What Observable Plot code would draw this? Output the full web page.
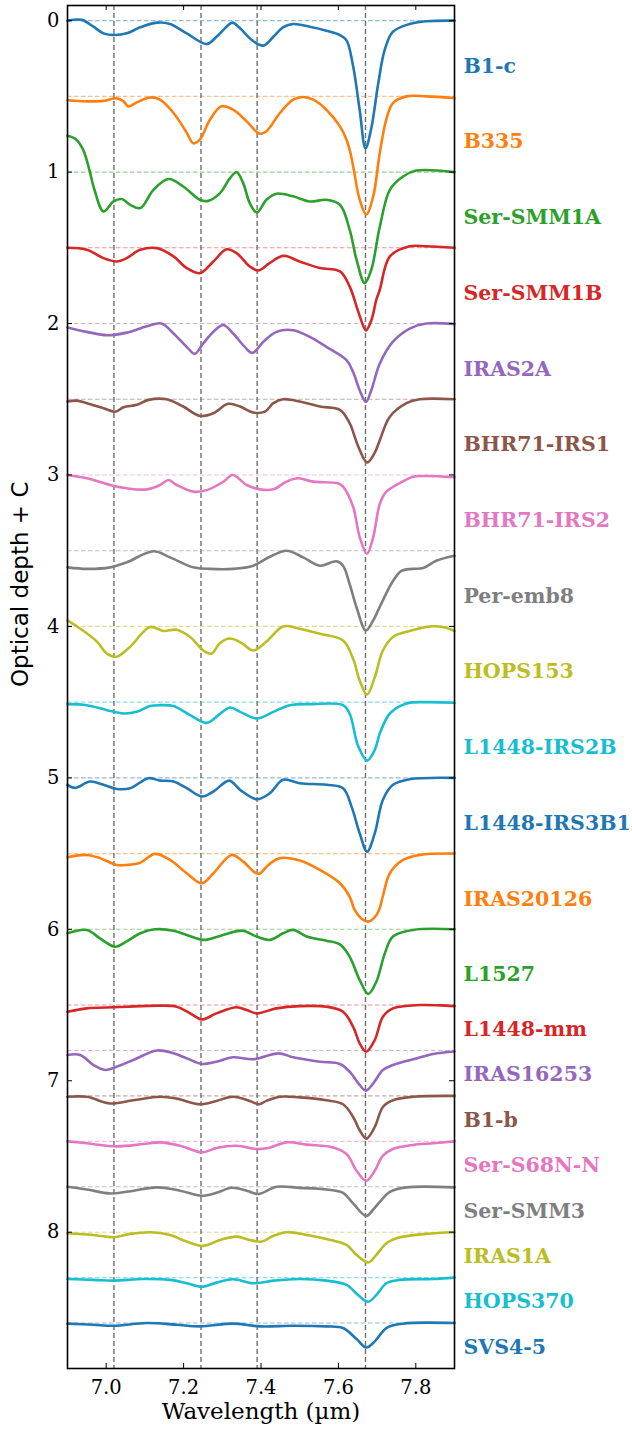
<!DOCTYPE html>
<html><head><meta charset="utf-8">
<script src="https://cdn.jsdelivr.net/npm/d3@7"></script>
<script src="https://cdn.jsdelivr.net/npm/@observablehq/plot@0.6"></script>
<style>body{margin:0;background:#fff;} #chart svg{display:block}</style>
</head><body><div id="chart"></div>
<script>
// ---- data ----
const names = ["B1-c","B335","Ser-SMM1A","Ser-SMM1B","IRAS2A","BHR71-IRS1","BHR71-IRS2","Per-emb8","HOPS153","L1448-IRS2B","L1448-IRS3B1","IRAS20126","L1527","L1448-mm","IRAS16253","B1-b","Ser-S68N-N","Ser-SMM3","IRAS1A","HOPS370","SVS4-5"];
const offsets = [0,0.5,1,1.5,2,2.5,3,3.5,4,4.5,5,5.5,6,6.5,6.8,7.1,7.4,7.7,8.0,8.3,8.6];
const colors = ["#1f77b4","#ff7f0e","#2ca02c","#d62728","#9467bd","#8c564b","#e377c2","#7f7f7f","#bcbd22","#17becf","#1f77b4","#ff7f0e","#2ca02c","#d62728","#9467bd","#8c564b","#e377c2","#7f7f7f","#bcbd22","#17becf","#1f77b4"];
const bandCentres = [7.02, 7.245, 7.39, 7.67];
const xTicks = [7.0, 7.2, 7.4, 7.6, 7.8];
const yTicks = [0,1,2,3,4,5,6,7,8];
const xDomain = [6.9, 7.9];
const yDomain = [-0.1, 8.9];

// fitted optical depth profiles: [wavelength (µm), tau]
const B1c = [[6.900,0],[6.937,-0.005],[6.967,0.04],[6.993,0.084],[7.023,0.095],[7.053,0.084],[7.088,0.044],[7.131,0.013],[7.165,0.022],[7.208,0.084],[7.260,0.154],[7.285,0.106],[7.311,0.04],[7.326,0.013],[7.346,0.05],[7.376,0.128],[7.406,0.165],[7.432,0.106],[7.457,0.044],[7.483,0.022],[7.526,0.04],[7.569,0.066],[7.604,0.095],[7.621,0.13],[7.638,0.30],[7.655,0.59],[7.670,0.844],[7.685,0.71],[7.703,0.414],[7.720,0.19],[7.741,0.073],[7.784,0.022],[7.827,0.004],[7.900,0]];
const B335 = [[6.900,0.026],[6.950,0.033],[6.993,0.03],[7.027,0.013],[7.045,0.033],[7.057,0.066],[7.079,0.04],[7.113,0.007],[7.139,0.022],[7.174,0.11],[7.208,0.24],[7.225,0.31],[7.242,0.286],[7.268,0.154],[7.298,0.066],[7.328,0.088],[7.363,0.165],[7.397,0.247],[7.414,0.23],[7.449,0.11],[7.483,0.022],[7.509,0.004],[7.535,0.022],[7.569,0.088],[7.604,0.198],[7.621,0.286],[7.629,0.352],[7.638,0.46],[7.655,0.682],[7.672,0.78],[7.690,0.66],[7.707,0.372],[7.724,0.15],[7.741,0.044],[7.776,0],[7.827,0],[7.900,0.011]];
const SerSMM1A = [[6.900,-0.24],[6.920,-0.22],[6.940,-0.15],[6.955,-0.03],[6.970,0.12],[6.993,0.26],[7.019,0.194],[7.040,0.178],[7.062,0.216],[7.088,0.238],[7.122,0.117],[7.161,0.046],[7.199,0.095],[7.242,0.183],[7.264,0.19],[7.294,0.139],[7.320,0.04],[7.337,0],[7.354,0.073],[7.371,0.205],[7.389,0.267],[7.414,0.183],[7.440,0.143],[7.483,0.16],[7.526,0.194],[7.569,0.183],[7.604,0.216],[7.629,0.38],[7.647,0.58],[7.668,0.733],[7.685,0.645],[7.707,0.36],[7.733,0.117],[7.767,0.029],[7.801,-0.01],[7.900,0]];
const SerSMM1B = [[6.900,0],[6.950,0.013],[6.993,0.068],[7.027,0.09],[7.053,0.068],[7.088,0.013],[7.131,0.002],[7.174,0.057],[7.208,0.134],[7.242,0.167],[7.277,0.09],[7.311,0.01],[7.337,0.035],[7.371,0.123],[7.393,0.15],[7.423,0.1],[7.457,0.053],[7.500,0.09],[7.552,0.134],[7.604,0.156],[7.629,0.255],[7.647,0.388],[7.655,0.45],[7.671,0.545],[7.685,0.48],[7.698,0.343],[7.707,0.277],[7.733,0.057],[7.784,-0.01],[7.827,-0.01],[7.900,0]];
const IRAS2A = [[6.900,0.026],[6.950,0.055],[7.002,0.077],[7.053,0.06],[7.105,0.018],[7.143,0],[7.174,0.066],[7.208,0.154],[7.229,0.2],[7.251,0.13],[7.281,0.044],[7.303,0.01],[7.328,0.066],[7.358,0.154],[7.378,0.194],[7.406,0.12],[7.440,0.055],[7.483,0.044],[7.526,0.088],[7.569,0.154],[7.621,0.242],[7.638,0.32],[7.655,0.44],[7.671,0.518],[7.685,0.44],[7.707,0.264],[7.741,0.12],[7.784,0.033],[7.827,0],[7.900,0.004]];
const BHR71IRS1 = [[6.900,0.015],[6.924,0.009],[6.950,0.026],[6.993,0.06],[7.023,0.082],[7.045,0.053],[7.079,0.037],[7.109,0.004],[7.156,0],[7.199,0.048],[7.242,0.11],[7.277,0.092],[7.315,0.03],[7.346,0.048],[7.380,0.088],[7.410,0.082],[7.432,0.026],[7.457,0],[7.500,0.015],[7.552,0.048],[7.604,0.07],[7.629,0.158],[7.651,0.31],[7.674,0.417],[7.694,0.353],[7.707,0.27],[7.733,0.115],[7.776,0.026],[7.810,0],[7.900,0]];
const BHR71IRS2 = [[6.900,0],[6.950,0.022],[7.010,0.066],[7.053,0.088],[7.105,0.095],[7.139,0.066],[7.161,0.033],[7.182,0.066],[7.225,0.11],[7.260,0.1],[7.303,0.044],[7.327,0],[7.363,0.066],[7.397,0.095],[7.432,0.095],[7.466,0.044],[7.496,0.022],[7.535,0.044],[7.599,0.055],[7.612,0.077],[7.638,0.21],[7.655,0.41],[7.674,0.52],[7.690,0.41],[7.707,0.19],[7.724,0.11],[7.750,0.066],[7.793,0.011],[7.827,0.007],[7.900,0.015]];
const PerEmb8 = [[6.900,0.11],[6.950,0.12],[7.010,0.11],[7.053,0.077],[7.122,0.004],[7.165,0.044],[7.225,0.11],[7.268,0.12],[7.328,0.12],[7.380,0.099],[7.423,0.04],[7.466,0],[7.509,0.044],[7.552,0.099],[7.595,0.07],[7.612,0.099],[7.629,0.22],[7.647,0.375],[7.671,0.527],[7.690,0.46],[7.707,0.37],[7.724,0.28],[7.741,0.2],[7.762,0.135],[7.790,0.12],[7.819,0.115],[7.853,0.066],[7.900,0.033]];
const HOPS153 = [[6.900,-0.04],[6.933,0.015],[6.976,0.1],[7.002,0.18],[7.027,0.2],[7.062,0.134],[7.113,0.004],[7.148,0.03],[7.182,0.022],[7.217,0.07],[7.251,0.159],[7.272,0.18],[7.294,0.11],[7.320,0.08],[7.350,0.11],[7.380,0.159],[7.414,0.1],[7.457,0],[7.500,0.015],[7.552,0.048],[7.612,0.093],[7.638,0.214],[7.655,0.357],[7.674,0.45],[7.694,0.335],[7.715,0.159],[7.741,0.07],[7.784,0.03],[7.836,0],[7.870,0.004],[7.900,0.03]];
const L1448IRS2B = [[6.900,0.013],[6.950,0.02],[7.002,0.053],[7.045,0.075],[7.079,0.064],[7.113,0.026],[7.139,0.02],[7.174,0.026],[7.217,0.086],[7.260,0.137],[7.290,0.086],[7.320,0.035],[7.346,0.064],[7.389,0.108],[7.432,0.064],[7.475,0.02],[7.535,0.013],[7.612,0.02],[7.629,0.075],[7.651,0.29],[7.674,0.386],[7.694,0.315],[7.707,0.207],[7.733,0.075],[7.776,0.009],[7.827,0],[7.900,0.004]];
const L1448IRS3B1 = [[6.900,0.046],[6.920,0.066],[6.958,0.024],[6.993,0.046],[7.027,0.073],[7.062,0.068],[7.109,0.002],[7.139,0.018],[7.174,0.024],[7.208,0.068],[7.247,0.123],[7.277,0.09],[7.318,0.018],[7.346,0.079],[7.389,0.141],[7.423,0.101],[7.457,0.013],[7.500,0.035],[7.569,0.046],[7.612,0.068],[7.634,0.19],[7.655,0.366],[7.674,0.487],[7.694,0.366],[7.715,0.145],[7.741,0.046],[7.784,0.009],[7.900,0]];
const IRAS20126 = [[6.900,0.024],[6.950,0.009],[6.984,0.03],[7.027,0.075],[7.053,0.075],[7.088,0.06],[7.126,0.002],[7.165,0.042],[7.208,0.13],[7.247,0.196],[7.277,0.13],[7.324,0.009],[7.354,0.053],[7.393,0.134],[7.419,0.075],[7.449,0.03],[7.500,0.046],[7.552,0.108],[7.604,0.196],[7.629,0.284],[7.642,0.372],[7.660,0.43],[7.677,0.449],[7.694,0.42],[7.705,0.372],[7.715,0.28],[7.733,0.13],[7.767,0.042],[7.810,0.009],[7.900,0]];
const L1527 = [[6.900,0.026],[6.950,0.004],[6.984,0.06],[7.023,0.115],[7.053,0.08],[7.088,0.026],[7.126,0],[7.174,0.009],[7.208,0.037],[7.251,0.07],[7.294,0.044],[7.352,0.009],[7.389,0.048],[7.423,0.07],[7.457,0.026],[7.483,0.004],[7.518,0.048],[7.569,0.075],[7.604,0.1],[7.629,0.18],[7.655,0.335],[7.677,0.427],[7.698,0.346],[7.720,0.159],[7.741,0.048],[7.793,0.004],[7.900,0]];
const L1448mm = [[6.900,0.044],[6.950,0.022],[7.019,0.015],[7.053,0.011],[7.139,0.004],[7.182,0.011],[7.217,0.055],[7.247,0.095],[7.285,0.055],[7.337,0.015],[7.363,0.033],[7.389,0.055],[7.440,0.022],[7.500,0.007],[7.569,0.011],[7.612,0.044],[7.638,0.143],[7.655,0.253],[7.672,0.308],[7.694,0.231],[7.715,0.077],[7.741,0.022],[7.810,0],[7.900,0.007]];
const IRAS16253 = [[6.900,0.03],[6.933,0.03],[6.967,0.096],[6.997,0.129],[7.027,0.107],[7.070,0.063],[7.131,0],[7.174,0.019],[7.208,0.052],[7.247,0.089],[7.285,0.074],[7.328,0.045],[7.380,0.058],[7.445,0.019],[7.483,0.045],[7.552,0.074],[7.604,0.089],[7.629,0.14],[7.655,0.228],[7.671,0.265],[7.690,0.217],[7.715,0.129],[7.741,0.096],[7.793,0.058],[7.845,0.023],[7.900,0.007]];
const B1b = [[6.900,0.006],[6.950,0.006],[7.010,0.05],[7.070,0.029],[7.139,0.006],[7.182,0.018],[7.242,0.055],[7.285,0.033],[7.328,0.006],[7.371,0.033],[7.395,0.055],[7.414,0.033],[7.449,0.006],[7.500,0.01],[7.569,0.029],[7.612,0.055],[7.638,0.139],[7.655,0.227],[7.672,0.282],[7.694,0.205],[7.715,0.073],[7.741,0.029],[7.793,0.006],[7.900,0]];
const SerS68NN = [[6.900,0],[6.950,0.013],[7.027,0.033],[7.096,0.018],[7.139,0.007],[7.191,0.029],[7.247,0.073],[7.285,0.044],[7.337,0.029],[7.389,0.051],[7.419,0.044],[7.466,0.007],[7.518,0.022],[7.586,0.04],[7.621,0.084],[7.647,0.194],[7.672,0.26],[7.694,0.194],[7.715,0.095],[7.741,0.051],[7.793,0.024],[7.845,0.013],[7.900,0]];
const SerSMM3 = [[6.900,0],[6.950,0.018],[7.010,0.044],[7.053,0.033],[7.131,0.004],[7.191,0.026],[7.247,0.06],[7.285,0.04],[7.324,0.007],[7.363,0.026],[7.393,0.048],[7.440,0],[7.500,0.007],[7.569,0.018],[7.612,0.04],[7.638,0.11],[7.672,0.193],[7.690,0.15],[7.707,0.10],[7.733,0.033],[7.776,0.004],[7.900,0.004]];
const IRAS1A = [[6.900,0.007],[6.967,0.018],[7.019,0.033],[7.062,0.011],[7.113,0],[7.165,0.018],[7.208,0.062],[7.251,0.09],[7.294,0.051],[7.337,0.029],[7.371,0.051],[7.402,0.062],[7.432,0.024],[7.466,0],[7.518,0.018],[7.586,0.055],[7.621,0.084],[7.647,0.15],[7.677,0.2],[7.698,0.15],[7.724,0.073],[7.750,0.04],[7.827,0.011],[7.900,0]];
const HOPS370 = [[6.900,0.009],[6.967,0.015],[7.019,0.02],[7.096,0.009],[7.165,0.015],[7.208,0.037],[7.247,0.06],[7.285,0.033],[7.328,0.011],[7.380,0.037],[7.432,0.02],[7.500,0.009],[7.569,0.02],[7.621,0.048],[7.651,0.115],[7.677,0.159],[7.698,0.115],[7.724,0.037],[7.758,0.015],[7.845,0.009],[7.900,0]];
const SVS45 = [[6.900,0.004],[6.967,0.011],[7.019,0.018],[7.105,0],[7.182,0.011],[7.242,0.022],[7.328,0.004],[7.397,0.022],[7.483,0.018],[7.569,0.022],[7.612,0.033],[7.647,0.106],[7.672,0.161],[7.694,0.121],[7.724,0.033],[7.767,0.004],[7.900,0]];

const profiles = [B1c,B335,SerSMM1A,SerSMM1B,IRAS2A,BHR71IRS1,BHR71IRS2,PerEmb8,HOPS153,L1448IRS2B,L1448IRS3B1,IRAS20126,L1527,L1448mm,IRAS16253,B1b,SerS68NN,SerSMM3,IRAS1A,HOPS370,SVS45];

// ---- tables ----
const series = names.map((name, i) => {
  const next = i < offsets.length - 1 ? offsets[i + 1] - offsets[i] : offsets[i] - offsets[i - 1];
  return {name, offset: offsets[i], color: colors[i], labelY: offsets[i] + (next > 0.4 ? 0.3 : 0.16)};
});
const rows = [];
profiles.forEach((p, i) => p.forEach(([w, t]) => rows.push({name: names[i], color: colors[i], w, y: offsets[i] + t})));

const W = 632, H = 1436, mL = 67, mR = 178, mT = 5, mB = 68;
const innerW = W - mL - mR, innerH = H - mT - mB;
const serif = "DejaVu Serif";

const chart = Plot.plot({
  width: W, height: H,
  marginLeft: mL, marginRight: mR, marginTop: mT, marginBottom: mB,
  x: {domain: xDomain},
  y: {domain: yDomain, reverse: true},
  style: {fontFamily: serif, background: "white", color: "black"},
  marks: [
    Plot.ruleY(series, {y: "offset", stroke: "color", strokeOpacity: 0.5, strokeWidth: 1.1, strokeDasharray: "4.5,2.5"}),
    Plot.ruleX(bandCentres, {x: d => d, stroke: "#6f6f6f", strokeWidth: 1.4, strokeDasharray: "5,3"}),
    Plot.line(rows, {x: "w", y: "y", z: "name", stroke: "color", strokeWidth: 2.6, curve: "catmull-rom"}),
    Plot.text(series, {x: () => xDomain[1], y: "labelY", text: "name", fill: "color", dx: 9, textAnchor: "start", fontWeight: "bold", fontSize: 20.5, fontFamily: serif}),
    Plot.frame({stroke: "black", strokeWidth: 1.6}),
    Plot.tickX(xTicks, {x: d => d, insetTop: innerH - 5, stroke: "black", strokeWidth: 1}),
    Plot.tickX(xTicks, {x: d => d, insetBottom: innerH - 5, stroke: "black", strokeWidth: 1}),
    Plot.tickY(yTicks, {y: d => d, insetRight: innerW - 5, stroke: "black", strokeWidth: 1}),
    Plot.tickY(yTicks, {y: d => d, insetLeft: innerW - 5, stroke: "black", strokeWidth: 1}),
    Plot.axisX(xTicks, {tickSize: 0, tickPadding: 12, tickFormat: d3.format(".1f"), fontSize: 19.5, label: null}),
    Plot.axisY(yTicks, {tickSize: 0, tickPadding: 8, tickFormat: d => String(d), fontSize: 19.5, label: null}),
    Plot.text(["Wavelength (µm)"], {frameAnchor: "bottom", dy: 50, fontSize: 23, fontFamily: serif}),
    Plot.text(["Optical depth + C"], {frameAnchor: "left", dx: -47, rotate: -90, fontSize: 23, fontFamily: "DejaVu Sans"})
  ]
});
document.getElementById("chart").append(chart);
</script>
</body></html>
